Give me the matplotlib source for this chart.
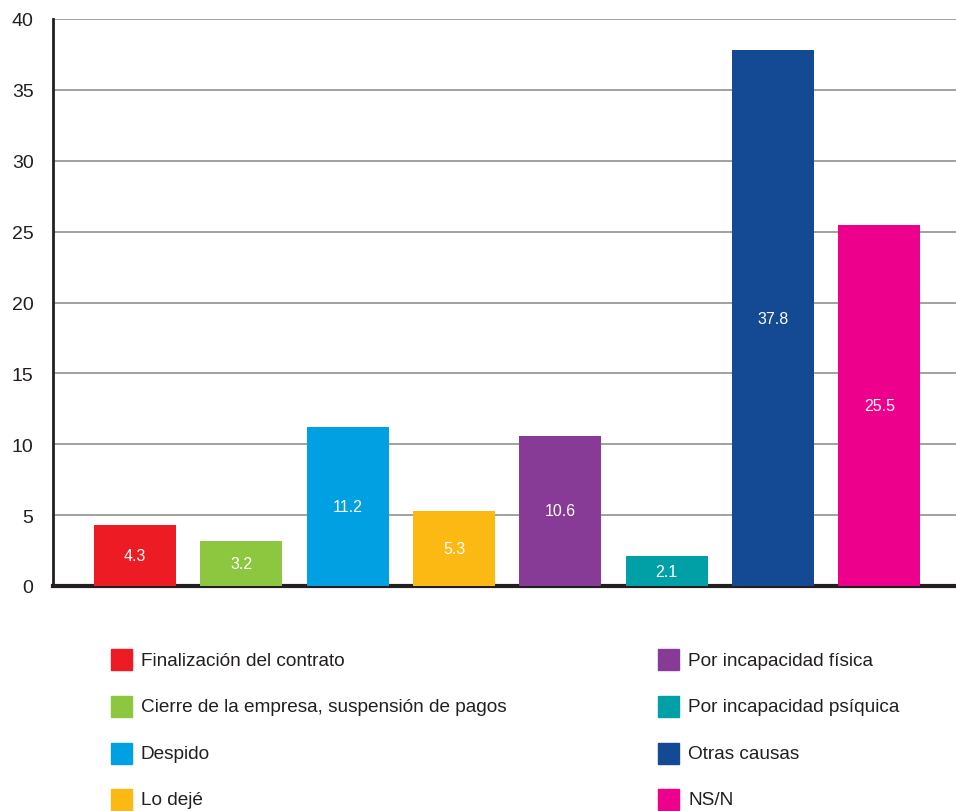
import matplotlib
matplotlib.use("Agg")
import matplotlib.pyplot as plt
from matplotlib.patches import Rectangle

plt.rcParams['font.family'] = ['Liberation Sans', 'DejaVu Sans']

categories = [
    "Finalización del contrato",
    "Cierre de la empresa, suspensión de pagos",
    "Despido",
    "Lo dejé",
    "Por incapacidad física",
    "Por incapacidad psíquica",
    "Otras causas",
    "NS/N",
]
values = [4.3, 3.2, 11.2, 5.3, 10.6, 2.1, 37.8, 25.5]
colors = ["#ED1C24", "#8DC63F", "#00A0E3", "#FDB913",
          "#873B96", "#00A0A6", "#134A93", "#EC008C"]
yticks = [0, 5, 10, 15, 20, 25, 30, 35, 40]

W, H = 956, 812
fig = plt.figure(figsize=(W / 100, H / 100), dpi=100)
ax = fig.add_axes([53 / W, 1 - 587 / H, 1 - 53 / W, (587 - 20) / H])

x = list(range(len(values)))
ax.bar(x, values, width=0.771, color=colors, zorder=3)
for xi, v in zip(x, values):
    ax.text(xi, v / 2, f"{v:.1f}", ha="center", va="center",
            color="white", fontsize=11.5, zorder=4)

ax.set_xlim(-0.771, 7.72)
ax.set_ylim(0, 40)
ax.set_yticks(yticks)
ax.set_yticklabels([str(t) for t in yticks], fontsize=14, color="#231F20")
ax.set_xticks([])
ax.tick_params(axis="y", length=0, pad=14)
ax.yaxis.grid(True, color="#A0A0A0", linewidth=1.4, zorder=0)
ax.set_axisbelow(True)

for s in ("top", "right"):
    ax.spines[s].set_visible(False)
ax.spines["left"].set_color("#231F20")
ax.spines["left"].set_linewidth(2.0)
ax.spines["bottom"].set_color("#231F20")
ax.spines["bottom"].set_linewidth(3.0)

# Legend: two columns of four entries, drawn in figure pixel coordinates
col_x = [111, 658]
row_y = [660, 707, 754, 800]
sq = 21
for i, (name, c) in enumerate(zip(categories, colors)):
    cx = col_x[i // 4]
    cy = row_y[i % 4]
    fig.patches.append(Rectangle((cx / W, 1 - (cy + sq / 2) / H), sq / W, sq / H,
                                 transform=fig.transFigure, color=c))
    fig.text((cx + 30) / W, 1 - (cy + 1) / H, name, ha="left", va="center",
             fontsize=13.7, color="#231F20")

fig.savefig("out.png", dpi=100)
